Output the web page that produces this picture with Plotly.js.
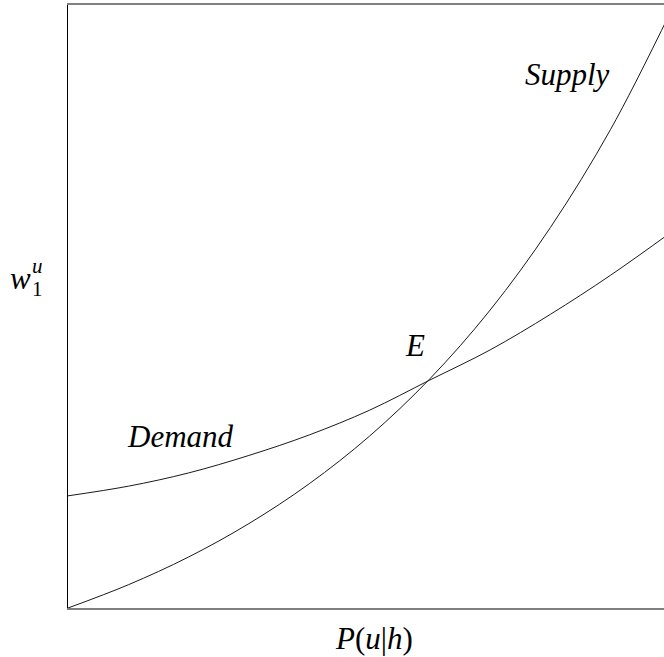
<!DOCTYPE html>
<html>
<head>
<meta charset="utf-8">
<script src="https://cdn.plot.ly/plotly-3.0.1.min.js"></script>
<style>
  html, body { margin: 0; padding: 0; overflow: hidden; background: #fff; }
  #chart { width: 672px; height: 657px; }
</style>
</head>
<body>
<div id="chart"></div>
<script>
// Probability of unemployment given hiring, P(u|h), on the horizontal axis
const pGrid = [0, 0.1, 0.2, 0.3, 0.4, 0.5, 0.6, 0.7, 0.8, 0.9, 1.0];
// Supply curve of the first-period wage w1^u
const supplyW = [0, 0.0385, 0.0846, 0.140, 0.206, 0.285, 0.380, 0.494, 0.631, 0.794, 0.990];
// Demand curve of the first-period wage w1^u
const demandW = [0.186, 0.202, 0.224, 0.253, 0.287, 0.328, 0.378, 0.428, 0.487, 0.552, 0.623];

const curveLine = { color: '#1a1a1a', width: 1, shape: 'spline', smoothing: 1 };

const traces = [
  { x: pGrid, y: supplyW, mode: 'lines', line: curveLine, name: 'Supply', hoverinfo: 'skip' },
  { x: pGrid, y: demandW, mode: 'lines', line: curveLine, name: 'Demand', hoverinfo: 'skip' }
];

const serif = 'Liberation Serif';
const labelFont = { family: serif, size: 31, color: '#000' };
const smallFont = { family: serif, size: 21, color: '#000' };

function note(x, y, ref, text, font) {
  return { x: x, y: y, xref: ref, yref: ref === 'paper' ? 'paper' : 'y',
           text: text, showarrow: false, font: font, xanchor: 'center', yanchor: 'middle' };
}

const layout = {
  width: 672,
  height: 657,
  margin: { l: 68, r: 1, t: 5, b: 49 },
  paper_bgcolor: '#fff',
  plot_bgcolor: '#fff',
  showlegend: false,
  xaxis: {
    range: [0, 1], showgrid: false, zeroline: false, showticklabels: false, ticks: '',
    showline: true, linecolor: '#808080', linewidth: 2, mirror: true, fixedrange: true
  },
  yaxis: {
    range: [0, 1], showgrid: false, zeroline: false, showticklabels: false, ticks: '',
    showline: true, linecolor: '#000', linewidth: 1, mirror: false, fixedrange: true
  },
  annotations: [
    note(0.828, 0.884, 'x', '<i>Supply</i>', labelFont),
    note(0.187, 0.285, 'x', '<i>Demand</i>', labelFont),
    note(0.575, 0.436, 'x', '<i>E</i>', labelFont),
    note(0.507, -0.05, 'paper', '<i>P</i>(<i>u</i>|<i>h</i>)', labelFont),
    note(-0.079, 0.546, 'paper', '<i>w</i>', labelFont),
    note(-0.051, 0.529, 'paper', '1', smallFont),
    note(-0.051, 0.567, 'paper', '<i>u</i>', smallFont)
  ]
};

Plotly.newPlot('chart', traces, layout, { staticPlot: true, displayModeBar: false });
</script>
</body>
</html>
